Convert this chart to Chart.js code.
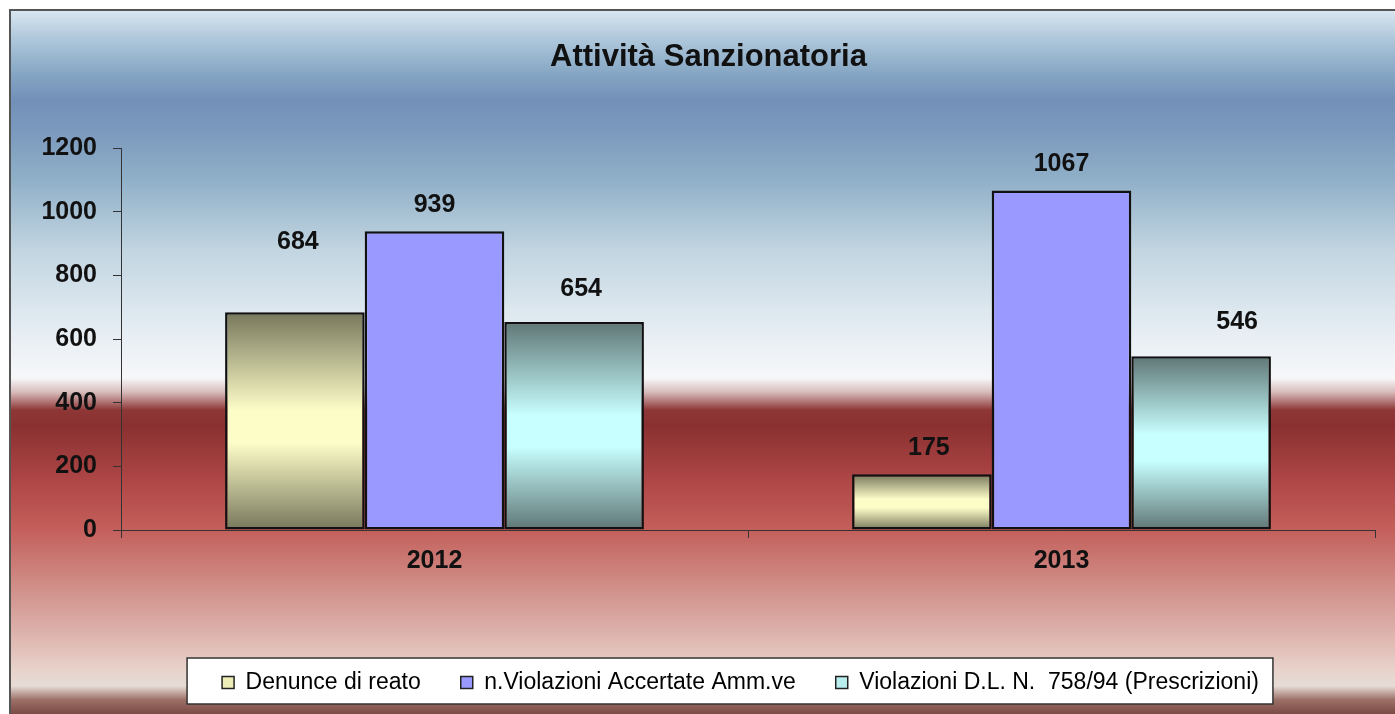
<!DOCTYPE html>
<html>
<head>
<meta charset="utf-8">
<title>Attività Sanzionatoria</title>
<script src="https://cdn.jsdelivr.net/npm/chart.js@4.4.1/dist/chart.umd.min.js"></script>
<style>
  html, body { margin: 0; padding: 0; background: #fff; }
  #chartBox { position: relative; width: 1395px; height: 714px; }
</style>
</head>
<body>
<div id="chartBox"><canvas id="graphicMain"></canvas></div>
<script>
// Attività Sanzionatoria - grafico a barre
// Librerie: Chart.js

const anni = ['2012', '2013'];
const denunce = [684, 175];
const violazioniAmm = [939, 1067];
const violazioniDL = [654, 546];
const yTicks = [0, 200, 400, 600, 800, 1000, 1200];

const titolo = 'Attività Sanzionatoria';
const nomiSerie = ['Denunce di reato', 'n.Violazioni Accertate Amm.ve', 'Violazioni D.L. N.  758/94 (Prescrizioni)'];

//--- colori delle barre (sfumatura verticale: scuro - chiaro - scuro)
const shades = [
  ['#77775c', '#fdfdc8', '#77775c'],
  ['#9999ff', '#9999ff', '#9999ff'],
  ['#5f7676', '#c8ffff', '#5f7676']
];
const legendFill = ['#ededb8', '#9999ff', '#b8eeee'];

// spostamento delle etichette (come nell'originale, non tutte centrate)
const labelLift = [[70, 26], [26, 26], [33, 34]];
const labelShift = [[3, 7], [0, 0], [7, 36]];

function barGradient(ctx, dsIndex){
  const chart = ctx.chart;
  const s = shades[dsIndex];
  if (ctx.type !== 'data' || !chart.scales.y) {
    return s[1];
  }
  const yScale = chart.scales.y;
  const top = yScale.getPixelForValue(ctx.raw);
  const bottom = yScale.getPixelForValue(0);
  if (!isFinite(top) || !isFinite(bottom) || top === bottom) {
    return s[1];
  }
  const g = chart.ctx.createLinearGradient(0, top, 0, bottom);
  g.addColorStop(0, s[0]);
  g.addColorStop(0.45, s[1]);
  g.addColorStop(0.6, s[1]);
  g.addColorStop(1, s[2]);
  return g;
}

//--- sfondo, cornice e riquadro della legenda
const backgroundPlugin = {
  id: 'sfondo',
  afterLayout(chart){
    // titolo e legenda un po' spostati a destra come nell'originale
    const lg = chart.legend;
    if (lg) {
      lg.left += 47;
      lg.right += 47;
    }
    const tb = chart.titleBlock;
    if (tb) {
      tb.left += 15;
      tb.right += 15;
    }
  },
  beforeDraw(chart){
    const c = chart.ctx;
    const w = chart.width, h = chart.height;
    c.save();
    c.fillStyle = '#ffffff';
    c.fillRect(0, 0, w, h);

    const g = c.createLinearGradient(0, 11, 0, h);
    const stops = [
      [11, '#d8e6f0'], [40, '#adc6da'], [75, '#84a5c3'], [100, '#7390b8'],
      [130, '#7b99bd'], [180, '#90b0c8'], [250, '#c2d5e1'], [330, '#e5edf3'],
      [378, '#f7f7f9'], [392, '#d8bcbc'], [410, '#8e3737'], [425, '#8a3030'],
      [480, '#ae4646'], [528, '#c35e5a'], [580, '#cf8983'], [630, '#dcb0aa'],
      [670, '#e8d3cb'], [686, '#e6dcd6'], [700, '#9b6f67'], [714, '#7a4a44']
    ];
    stops.forEach(function(st){
      g.addColorStop((st[0] - 11) / (h - 11), st[1]);
    });
    c.fillStyle = g;
    c.fillRect(11, 11, w - 11, h - 11);

    c.fillStyle = '#555555';
    c.fillRect(9, 9, w - 9, 2);
    c.fillRect(9, 9, 2, h - 9);

    const lg = chart.legend;
    if (lg && lg.legendHitBoxes && lg.legendHitBoxes.length) {
      const hb = lg.legendHitBoxes;
      const first = hb[0], last = hb[hb.length - 1];
      const cy = 681;
      const left = first.left - 35;
      const right = last.left + last.width + 14;
      c.fillStyle = '#ffffff';
      c.fillRect(left, cy - 23, right - left, 46);
      c.strokeStyle = '#333333';
      c.lineWidth = 1.5;
      c.strokeRect(left, cy - 23, right - left, 46);
    }
    c.restore();
  }
};

//--- etichette dei valori sopra le barre
const valueLabels = {
  id: 'valori',
  afterDatasetsDraw(chart){
    const c = chart.ctx;
    c.save();
    c.font = 'bold 25px "Liberation Sans", Arial, sans-serif';
    c.fillStyle = '#111111';
    c.textAlign = 'center';
    c.textBaseline = 'middle';
    chart.data.datasets.forEach(function(ds, i){
      const meta = chart.getDatasetMeta(i);
      meta.data.forEach(function(bar, j){
        c.fillText(String(ds.data[j]), bar.x + labelShift[i][j], bar.y - labelLift[i][j]);
      });
    });
    c.restore();
  }
};

let chart1;
function drawMainChart(){
  const ctx = document.getElementById('graphicMain').getContext('2d');
  if (chart1) {
    chart1.destroy();
  }
  const series = [denunce, violazioniAmm, violazioniDL];

  chart1 = new Chart(ctx, {
    type: 'bar',
    data: {
      labels: anni,
      datasets: series.map(function(values, i){
        return {
          label: nomiSerie[i],
          data: values,
          backgroundColor: function(c){ return barGradient(c, i); },
          borderColor: '#111111',
          borderWidth: 2.5,
          borderSkipped: false,
          categoryPercentage: 0.668,
          barPercentage: 1.0
        };
      })
    },
    options: {
      responsive: true,
      maintainAspectRatio: false,
      animation: false,
      layout: {
        padding: { top: 10, left: 12, right: 20, bottom: 10 }
      },
      scales: {
        x: {
          grid: {
            drawOnChartArea: false,
            color: '#333333',
            tickLength: 8,
            lineWidth: 1
          },
          border: { color: '#333333', width: 1 },
          ticks: {
            color: '#111111',
            padding: 8,
            font: { family: '"Liberation Sans", Arial, sans-serif', size: 25, weight: 'bold' }
          },
          afterFit: function(scale){ scale.height = 101; }
        },
        y: {
          min: 0,
          max: 1200,
          afterBuildTicks: function(scale){
            scale.ticks = yTicks.map(function(v){ return { value: v }; });
          },
          grid: {
            drawOnChartArea: false,
            color: '#333333',
            tickLength: 8,
            lineWidth: 1
          },
          border: { color: '#333333', width: 1 },
          ticks: {
            color: '#111111',
            padding: 16,
            callback: function(v){ return String(v); },
            font: { family: '"Liberation Sans", Arial, sans-serif', size: 25, weight: 'bold' }
          },
          afterFit: function(scale){ scale.width = 109; }
        }
      },
      plugins: {
        tooltip: { enabled: false },
        title: {
          display: true,
          text: titolo,
          color: '#111111',
          font: { family: '"Liberation Sans", Arial, sans-serif', size: 31, weight: 'bold' },
          padding: { top: 29, bottom: 72 }
        },
        legend: {
          display: true,
          position: 'bottom',
          labels: {
            color: '#111111',
            boxWidth: 12,
            boxHeight: 12,
            padding: 40,
            font: { family: '"Liberation Sans", Arial, sans-serif', size: 23 },
            generateLabels: function(ch){
              return ch.data.datasets.map(function(ds, i){
                return {
                  text: ds.label,
                  fillStyle: legendFill[i],
                  strokeStyle: '#222222',
                  lineWidth: 1.5,
                  datasetIndex: i,
                  hidden: false
                };
              });
            }
          }
        }
      }
    },
    plugins: [backgroundPlugin, valueLabels]
  });
}

drawMainChart();
</script>
</body>
</html>
